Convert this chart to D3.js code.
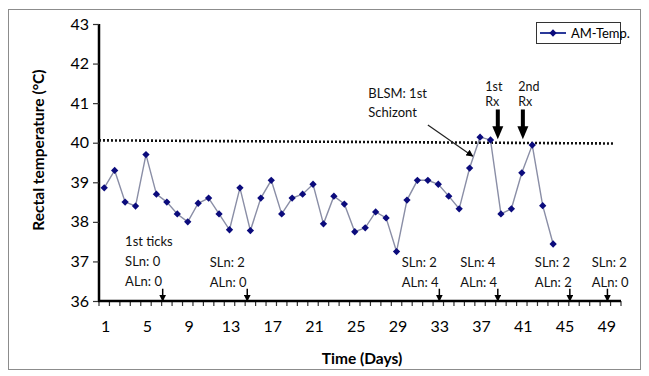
<!DOCTYPE html>
<html>
<head>
<meta charset="utf-8">
<script src="https://cdn.jsdelivr.net/npm/d3@7"></script>
<style>
  body { margin: 0; background: #fff; }
  svg { display: block; font-family: Lato, "Open Sans", sans-serif; }
</style>
</head>
<body>
<script>
(function (d3) {
  "use strict";

  /***** Data *****/
  var days = d3.range(1, 51);
  var tickLabels = [1, 5, 9, 13, 17, 21, 25, 29, 33, 37, 41, 45, 49];
  var yTicks = [36, 37, 38, 39, 40, 41, 42, 43];
  var amTemp = [38.86, 39.3, 38.5, 38.4, 39.7, 38.7, 38.5, 38.2, 38.0, 38.47,
                38.6, 38.2, 37.8, 38.86, 37.78, 38.6, 39.05, 38.2, 38.6, 38.7,
                38.95, 37.95, 38.65, 38.45, 37.75, 37.85, 38.25, 38.1, 37.25, 38.55,
                39.05, 39.05, 38.95, 38.65, 38.33, 39.36, 40.14, 40.07, 38.2, 38.33,
                39.24, 39.94, 38.41, 37.44];
  var thresholdLine = [[0.5, 40.06], [49.9, 39.98]];
  var tickNotes = [
    { day: 3.0, top: 37.40, lines: ["1st ticks", "SLn: 0", "ALn: 0"] },
    { day: 11.1, top: 36.87, lines: ["SLn: 2", "ALn: 0"] },
    { day: 29.5, top: 36.87, lines: ["SLn: 2", "ALn: 4"] },
    { day: 35.1, top: 36.87, lines: ["SLn: 4", "ALn: 4"] },
    { day: 42.25, top: 36.87, lines: ["SLn: 2", "ALn: 2"] },
    { day: 47.7, top: 36.87, lines: ["SLn: 2", "ALn: 0"] }
  ];
  var tickArrows = [6.6, 14.7, 33.1, 38.7, 45.6, 49.2];
  var rxNotes = [
    { day: 37.5, lines: ["1st", "Rx"], arrow: 38.7 },
    { day: 40.65, lines: ["2nd", "Rx"], arrow: 41.1 }
  ];
  var blsm = { day: 26.3, top: 41.14, lines: ["BLSM: 1st", "Schizont"], from: [32.0, 40.45], to: [36.3, 39.66] };

  /***** Configuration *****/
  var W = 649, H = 376;
  var left = 99, right = 621, top = 24, bottom = 301;

  /***** Scales *****/
  var x = d3.scaleBand().domain(days).range([left, right]).padding(0);
  var xd = function (d) { return left + (d - 0.5) * x.step(); };
  var y = d3.scaleLinear().domain([36, 43]).range([bottom, top]);

  var svg = d3.select("body").append("svg")
    .attr("width", W).attr("height", H);

  svg.append("defs").append("marker")
    .attr("id", "ah").attr("viewBox", "0 0 10 10")
    .attr("refX", 9).attr("refY", 5)
    .attr("markerWidth", 7).attr("markerHeight", 7)
    .attr("markerUnits", "userSpaceOnUse")
    .attr("orient", "auto")
    .append("path").attr("d", "M0,0L10,5L0,10z").attr("fill", "#000");

  // outer frame
  svg.append("rect")
    .attr("x", 8.5).attr("y", 9.5).attr("width", 632).attr("height", 360)
    .attr("fill", "none").attr("stroke", "#8c8c8c").attr("stroke-width", 1);

  /***** Axes *****/
  var yAxis = d3.axisLeft(y).tickValues(yTicks).tickFormat(d3.format("d")).tickSize(6).tickPadding(4);
  var gy = svg.append("g").attr("transform", "translate(" + left + ",0)").call(yAxis);
  gy.select(".domain").attr("stroke", "#000").attr("stroke-width", 2.5).attr("d", "M0," + (top) + "V" + (bottom + 1));
  gy.selectAll(".tick line").attr("stroke", "#333").attr("stroke-width", 1.2);
  gy.selectAll(".tick text").attr("font-size", 16).attr("fill", "#000").attr("font-family", "Lato");

  var gx = svg.append("g").attr("transform", "translate(0," + bottom + ")");
  gx.selectAll("line.minor").data(d3.range(0, 51)).enter().append("line")
    .attr("x1", function (i) { return left + i * x.step(); })
    .attr("x2", function (i) { return left + i * x.step(); })
    .attr("y1", 0).attr("y2", 5)
    .attr("stroke", "#333").attr("stroke-width", 1.2);
  gx.append("line").attr("x1", left - 1).attr("x2", right)
    .attr("stroke", "#000").attr("stroke-width", 2.5);
  gx.selectAll("text").data(tickLabels).enter().append("text")
    .attr("x", function (d) { return x(d) + x.bandwidth() / 2 + 1.5; })
    .attr("y", 31).attr("text-anchor", "middle")
    .attr("font-size", 16).attr("fill", "#000")
    .text(function (d) { return d; });

  /***** Axis titles *****/
  svg.append("text")
    .attr("transform", "translate(44,150) rotate(-90)")
    .attr("text-anchor", "middle").attr("font-weight", "bold").attr("font-size", 15.5)
    .text("Rectal temperature (°C)");
  svg.append("text")
    .attr("x", 362).attr("y", 364).attr("text-anchor", "middle")
    .attr("font-weight", "bold").attr("font-size", 15.5)
    .text("Time (Days)");

  /***** Threshold line *****/
  svg.append("line")
    .attr("x1", xd(thresholdLine[0][0])).attr("y1", y(thresholdLine[0][1]))
    .attr("x2", xd(thresholdLine[1][0])).attr("y2", y(thresholdLine[1][1]))
    .attr("stroke", "#111").attr("stroke-width", 2.6).attr("stroke-dasharray", "2,2");

  /***** Series *****/
  var pts = amTemp.map(function (v, i) { return [x(days[i]) + x.bandwidth() / 2, y(v)]; });
  svg.append("path").datum(pts)
    .attr("d", d3.line())
    .attr("fill", "none").attr("stroke", "#8a8ea6").attr("stroke-width", 1.4);
  svg.selectAll("path.pt").data(pts).enter().append("path")
    .attr("class", "pt")
    .attr("d", d3.symbol(d3.symbolDiamond2, 34))
    .attr("transform", function (p) { return "translate(" + p[0] + "," + p[1] + ")"; })
    .attr("fill", "#0b0b7c");

  /***** Annotations *****/
  var notes = svg.append("g").attr("font-size", 13).attr("fill", "#111");
  tickNotes.forEach(function (n) {
    n.lines.forEach(function (t, i) {
      notes.append("text").attr("x", xd(n.day)).attr("y", y(n.top) + i * 20).text(t);
    });
  });
  tickArrows.forEach(function (d) {
    notes.append("line")
      .attr("x1", xd(d)).attr("x2", xd(d))
      .attr("y1", y(36.31)).attr("y2", y(36))
      .attr("stroke", "#000").attr("stroke-width", 1.5)
      .attr("marker-end", "url(#ah)");
  });

  rxNotes.forEach(function (n) {
    n.lines.forEach(function (t, i) {
      notes.append("text").attr("x", xd(n.day)).attr("y", y(41.3) + i * 15)
        .attr("font-size", 12.5).text(t);
    });
    var ax = xd(n.arrow), y0 = y(40.84), y1 = y(40.09);
    notes.append("rect").attr("x", ax - 2).attr("y", y0).attr("width", 4).attr("height", (y1 - y0) - 12)
      .attr("fill", "#000");
    notes.append("path")
      .attr("d", "M" + (ax - 5.5) + "," + (y1 - 13) + "L" + (ax + 5.5) + "," + (y1 - 13) + "L" + ax + "," + y1 + "Z")
      .attr("fill", "#000");
  });

  blsm.lines.forEach(function (t, i) {
    notes.append("text").attr("x", xd(blsm.day)).attr("y", y(blsm.top) + i * 19)
      .attr("font-size", 13).text(t);
  });
  notes.append("line")
    .attr("x1", xd(blsm.from[0])).attr("y1", y(blsm.from[1]))
    .attr("x2", xd(blsm.to[0])).attr("y2", y(blsm.to[1]))
    .attr("stroke", "#222").attr("stroke-width", 1.2)
    .attr("marker-end", "url(#ah)");

  /***** Legend *****/
  var lg = svg.append("g").attr("transform", "translate(536,22)");
  lg.append("rect").attr("x", 0.5).attr("y", 0.5).attr("width", 84).attr("height", 21)
    .attr("fill", "#fff").attr("stroke", "#333");
  lg.append("line").attr("x1", 4).attr("x2", 30).attr("y1", 11).attr("y2", 11)
    .attr("stroke", "#2b3a9a").attr("stroke-width", 2);
  lg.append("path").attr("d", d3.symbol(d3.symbolDiamond2, 34))
    .attr("transform", "translate(17,11)").attr("fill", "#0b0b7c");
  lg.append("text").attr("x", 35).attr("y", 15.5).attr("font-size", 13).text("AM-Temp.");
})(d3);
</script>
</body>
</html>
